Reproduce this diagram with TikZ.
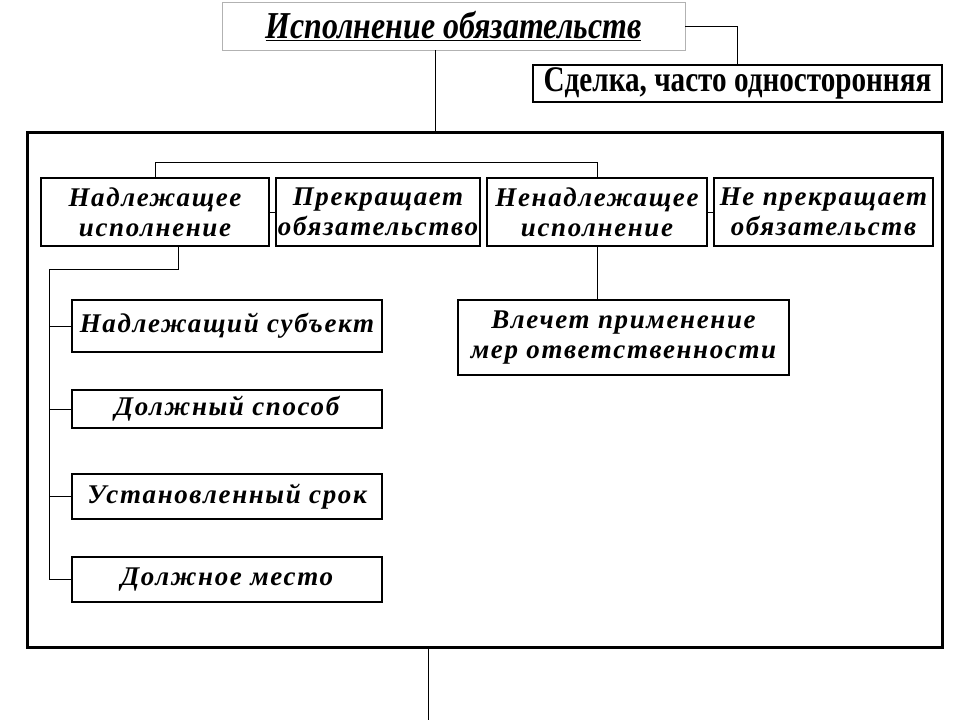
\documentclass[tikz,border=0pt]{standalone}
\usepackage{fontspec}
\setmainfont{Liberation Serif}
\newfontfamily\boxfont[LetterSpace=6]{Liberation Serif}
\newfontfamily\headfont[FakeStretch=0.84]{Liberation Serif}
\newfontfamily\dealfont[FakeStretch=0.81]{Liberation Serif}

\begin{document}
\begin{tikzpicture}[x=1pt,y=-1pt,
  box/.style={draw,line width=1.2pt,align=center,inner sep=0pt,
    font=\boxfont\bfseries\itshape\fontsize{27}{30}\selectfont},
  link/.style={line width=1pt}]
 \useasboundingbox (0,0) rectangle (960,720);
 \fill[white] (0,0) rectangle (960,720);

 \node[draw=gray!60,line width=0.8pt,minimum width=463,minimum height=48,inner sep=0pt,
   font=\headfont\bfseries\itshape\fontsize{38}{40}\selectfont] (title) at (453.5,26)
   {\underline{Исполнение обязательств}};
 \node[box,font=\dealfont\bfseries\fontsize{36}{38}\selectfont,minimum width=409,minimum height=37]
   (deal) at (737.5,83.5) {Сделка, часто односторонняя};
 \node[draw,line width=3pt,minimum width=915,minimum height=515,inner sep=0pt] (frame) at (484.5,389.5) {};

 \node[box,minimum width=228,minimum height=68] (good) at (155,212) {Надлежащее\\исполнение};
 \node[box,minimum width=204,minimum height=68] (stops) at (378,212) {Прекращает\\обязательство};
 \node[box,minimum width=220,minimum height=68] (bad) at (597,212) {Ненадлежащее\\исполнение};
 \node[box,minimum width=219,minimum height=68] (nostop) at (823.5,212) {Не прекращает\\обязательств};

 \node[box,minimum width=310,minimum height=52] (subj) at (227,326) {Надлежащий субъект};
 \node[box,minimum width=310,minimum height=38] (way) at (227,409) {Должный способ};
 \node[box,minimum width=310,minimum height=45] (term) at (227,496.5) {Установленный срок};
 \node[box,minimum width=310,minimum height=45] (place) at (227,579.5) {Должное место};
 \node[box,minimum width=331,minimum height=75] (resp) at (623.5,337.5) {Влечет применение\\мер ответственности};

 \coordinate (drop) at (435,0);
 \coordinate (exit) at (428,720);
 \coordinate (fork) at (178,0);
 \coordinate (spine) at (49,269);

 \draw[link] (title.east) -| (deal.north);
 \draw[link] (title.south -| drop) -- (frame.north -| drop);
 \draw[link] (frame.south -| exit) -- (exit);
 \draw[link] (good.north) -- ++(0,-15) -| (bad.north);
 \draw[link] (good.east) -- (stops.west);
 \draw[link] (bad.east) -- (nostop.west);
 \draw[link] (bad.south) -- (bad.south |- resp.north);
 \draw[link] (good.south -| fork) |- (spine) -- (spine |- place.west);
 \foreach \n in {subj,way,term,place}
   \draw[link] (spine |- \n.west) -- (\n.west);
\end{tikzpicture}
\end{document}
